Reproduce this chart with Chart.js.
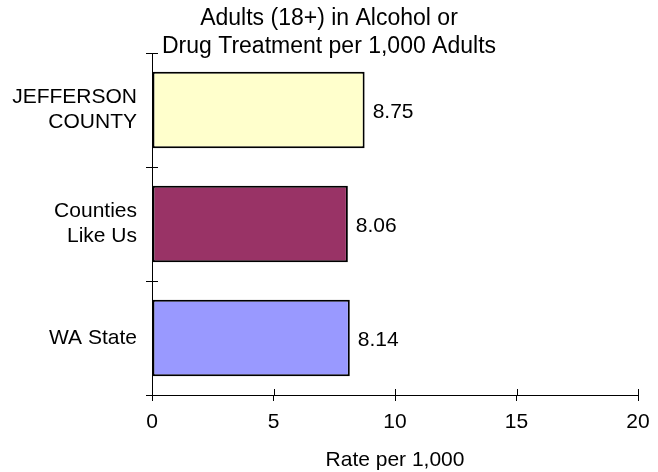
<!DOCTYPE html>
<html lang="en">
<head>
<meta charset="UTF-8">
<title>Adults in Alcohol or Drug Treatment</title>
<script src="https://cdn.jsdelivr.net/npm/chart.js"></script>
<style>
  html, body { margin: 0; padding: 0; background: #fff; }
  #wrap { width: 658px; height: 472px; }
</style>
</head>
<body>
<div id="wrap"><canvas id="treatmentChart" width="658" height="472"></canvas></div>
<script>
// data
const categories = [['JEFFERSON', 'COUNTY'], ['Counties', 'Like Us'], 'WA State'];
const rates = [8.75, 8.06, 8.14];
const barColors = ['#FFFFCC', '#993366', '#9999FF'];
const xTicks = [0, 5, 10, 15, 20];
const titleLines = ['Adults (18+) in Alcohol or', 'Drug Treatment per 1,000 Adults'];
const xTitle = 'Rate per 1,000';

const FONT = '"Liberation Sans", Arial, sans-serif';
Chart.defaults.font.family = FONT;
Chart.defaults.color = '#000';

// prints the value just past the end of each bar
const valueLabels = {
  id: 'valueLabels',
  afterDatasetsDraw(chart) {
    const ctx = chart.ctx;
    const meta = chart.getDatasetMeta(0);
    ctx.save();
    ctx.font = '21px ' + FONT;
    ctx.fillStyle = '#000';
    ctx.textAlign = 'left';
    ctx.textBaseline = 'middle';
    meta.data.forEach((bar, i) => {
      ctx.fillText(rates[i].toFixed(2), bar.x + 8, bar.y + 2);
    });
    ctx.restore();
  }
};

// the ticks cross the axes, chart.js only draws the outer half
const crossTicks = {
  id: 'crossTicks',
  afterDraw(chart) {
    const ctx = chart.ctx;
    const xs = chart.scales.x, ys = chart.scales.y;
    ctx.save();
    ctx.strokeStyle = '#000';
    ctx.lineWidth = 1;
    ctx.beginPath();
    xs.ticks.forEach((t, i) => {
      const px = Math.round(xs.getPixelForTick(i)) + 0.5;
      ctx.moveTo(px, ys.bottom - 6);
      ctx.lineTo(px, ys.bottom);
    });
    for (let i = 0; i <= categories.length; i++) {
      const py = Math.round(ys.getPixelForValue(i - 0.5)) + 0.5;
      ctx.moveTo(xs.left, py);
      ctx.lineTo(xs.left + 6, py);
    }
    ctx.stroke();
    ctx.restore();
  }
};

const ctx = document.getElementById('treatmentChart').getContext('2d');
new Chart(ctx, {
  type: 'bar',
  data: {
    labels: categories,
    datasets: [{
      data: rates,
      backgroundColor: barColors,
      borderColor: '#000',
      borderWidth: 2,
      borderSkipped: false,
      barPercentage: 0.67,
      categoryPercentage: 1
    }]
  },
  options: {
    indexAxis: 'y',
    responsive: false,
    animation: false,
    layout: { padding: 0 },
    plugins: {
      legend: { display: false },
      tooltip: { enabled: false },
      title: {
        display: true,
        text: titleLines,
        color: '#000',
        font: { size: 23, weight: 'normal', lineHeight: 28 / 23 },
        padding: { top: 5, bottom: -8 }
      }
    },
    scales: {
      x: {
        min: 0,
        max: 20,
        // keep room on the right without shifting the title off centre
        afterFit(scale) { scale.height = 77; scale.paddingRight = 20; },
        afterBuildTicks(scale) { scale.ticks = xTicks.map(v => ({ value: v })); },
        grid: { drawOnChartArea: false, tickLength: 6, color: '#000' },
        border: { color: '#000', width: 1 },
        ticks: { padding: 9, font: { size: 21 }, color: '#000' },
        title: {
          display: true,
          text: xTitle,
          color: '#000',
          font: { size: 21, lineHeight: 1 },
          padding: { top: 0, bottom: 1 }
        }
      },
      y: {
        afterFit(scale) { scale.width = 152; },
        grid: { drawOnChartArea: false, tickLength: 6, color: '#000' },
        border: { color: '#000', width: 1 },
        ticks: { padding: 9, font: { size: 21, lineHeight: 25 / 21 }, color: '#000' }
      }
    }
  },
  plugins: [valueLabels, crossTicks]
});
</script>
</body>
</html>
